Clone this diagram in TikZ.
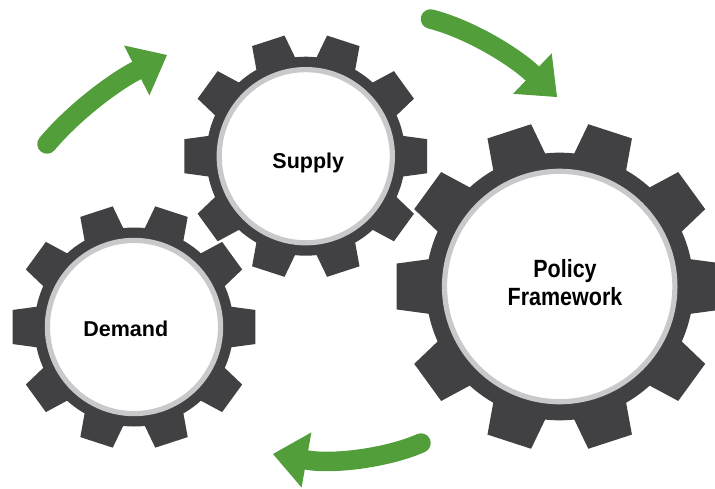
\documentclass[tikz,border=0pt]{standalone}
\usepackage{fontspec}
\setmainfont{Liberation Sans}
\usetikzlibrary{arrows.meta}

\definecolor{gearfill}{HTML}{414042}
\definecolor{ringgray}{HTML}{C8C9CB}
\definecolor{arrowgreen}{HTML}{529E3B}

\tikzset{
  gearbody/.style={fill=gearfill},
  gearface/.style={circle, fill=white, draw=ringgray, line width=5.2pt, inner sep=0pt},
  gearlabel/.style={font=\fontsize{21.5}{24}\selectfont\bfseries, inner sep=0pt, anchor=base, align=center},
  cyclearrow/.style={draw=arrowgreen, line width=19.5pt, line cap=round,
    -{Triangle[length=34pt, width=56pt, line width=0pt]}}
}

% Ten-tooth gear body (teeth + hub), centred on a named coordinate
\newcommand\gearteeth[2]{%
  \begin{scope}[shift={(#1)}, scale=#2]
    \fill[gearbody] (0,0) circle[radius=99.5];
    \foreach \a in {0,36,...,324}
      \fill[gearbody] (\a-12.5:96) -- (\a-8:122.5) -- (\a+8:122.5) -- (\a+12.5:96) -- cycle;
  \end{scope}}

\begin{document}
\begin{tikzpicture}[x=1pt, y=-1pt]
  \useasboundingbox (0,0) rectangle (715,488);
  \clip (0,0) rectangle (715,488);

  % gear centres
  \coordinate (demandc) at (134,327);
  \coordinate (supplyc) at (305.8,156.2);
  \coordinate (policyc) at (559.7,286.5);

  % gear bodies
  \gearteeth{demandc}{1}
  \gearteeth{supplyc}{1}
  \gearteeth{policyc}{1.345}

  % white faces with grey rims
  \node[gearface, minimum size=173.2pt] (demand) at (demandc) {};
  \node[gearface, minimum size=173.2pt] (supply) at (supplyc) {};
  \node[gearface, minimum size=230.4pt] (policy) at (policyc) {};

  % labels (a two-line label sits on the baseline of its last line)
  \node[gearlabel] (supplytext) at (308.3,168.3) {Supply};
  \node[gearlabel] (demandtext) at (125.8,336.7) {Demand};
  \node[gearlabel, yscale=1.16, transform shape] (policytext) at (565,305) {Policy\\Framework};

  % circulating arrows
  \coordinate (a1s) at (47,144);
  \coordinate (a1e) at (167,55);
  \coordinate (a2s) at (430.5,19);
  \coordinate (a2e) at (557,97);
  \coordinate (a3s) at (421,443);
  \coordinate (a3e) at (273,454);
  \draw[cyclearrow] (a1s) .. controls (74,112) and (114,82) .. (a1e);
  \draw[cyclearrow] (a2s) .. controls (470,29) and (515,57) .. (a2e);
  \draw[cyclearrow] (a3s) .. controls (390,457) and (335,465) .. (a3e);
\end{tikzpicture}
\end{document}
